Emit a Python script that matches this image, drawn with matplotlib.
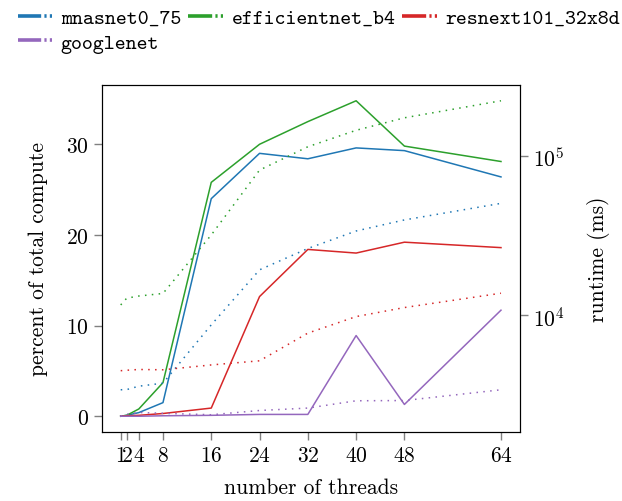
import numpy as np
import matplotlib
matplotlib.use('Agg')
import matplotlib.pyplot as plt
from matplotlib.legend_handler import HandlerBase
from matplotlib.lines import Line2D

plt.rcParams['font.family'] = 'serif'
plt.rcParams['font.serif'] = ['cmr10']
plt.rcParams['mathtext.fontset'] = 'cm'
plt.rcParams['axes.formatter.use_mathtext'] = True

threads = [1, 2, 4, 8, 16, 24, 32, 40, 48, 64]
models = ['mnasnet0_75', 'efficientnet_b4', 'resnext101_32x8d', 'googlenet']
colors = ['#1f77b4', '#2ca02c', '#d62728', '#9467bd']

# percent of total compute (solid, left axis)
pct_mnasnet = [0, 0.1, 0.4, 1.5, 24.0, 29.0, 28.4, 29.6, 29.3, 26.4]
pct_efficientnet = [0, 0.1, 0.8, 3.7, 25.8, 30.0, 32.5, 34.8, 29.8, 28.1]
pct_resnext = [0, 0.05, 0.1, 0.3, 0.9, 13.2, 18.4, 18.0, 19.2, 18.6]
pct_googlenet = [0, 0, 0, 0.05, 0.1, 0.2, 0.2, 8.9, 1.3, 11.7]

# runtime in ms (dotted, right axis, log)
rt_mnasnet = [3390, 3400, 3570, 3730, 8690, 19300, 26300, 33900, 39800, 50600]
rt_efficientnet = [11600, 12800, 13200, 13700, 32000, 82000, 115000, 146000, 175000, 224000]
rt_resnext = [4470, 4500, 4550, 4530, 4860, 5160, 7710, 9800, 11170, 13750]
rt_googlenet = [2310, 2380, 2440, 2410, 2360, 2510, 2600, 2890, 2900, 3390]

pcts = [pct_mnasnet, pct_efficientnet, pct_resnext, pct_googlenet]
rts = [rt_mnasnet, rt_efficientnet, rt_resnext, rt_googlenet]


class SolidDotHandler(HandlerBase):
    # solid segment followed by a dotted one, like the plot styles
    def create_artists(self, legend, orig_handle, xdescent, ydescent,
                       width, height, fontsize, trans):
        c = orig_handle.get_color()
        y = height / 2 - ydescent
        split = -xdescent + width * 0.58
        a = Line2D([-xdescent, split], [y, y], color=c, lw=2.6, solid_capstyle='butt')
        b = Line2D([split, -xdescent + width], [y, y], color=c, lw=2.6,
                   linestyle=(0, (0.6, 0.9)), dash_capstyle='butt')
        a.set_transform(trans)
        b.set_transform(trans)
        return [a, b]


fig = plt.figure(figsize=(6.22, 5.02), dpi=100)
ax = fig.add_axes([101.7 / 622, 1 - 433 / 502, (520 - 101.7) / 622, (433 - 86) / 502])
ax2 = ax.twinx()

handles = []
for name, c, p, r in zip(models, colors, pcts, rts):
    l1, = ax.plot(threads, p, color=c, lw=1.1)
    ax2.plot(threads, r, color=c, lw=1.1, linestyle=(0, (1, 3.5)))
    handles.append(l1)

ax2.set_yscale('log')
ax2.minorticks_off()

ax.set_xticks(threads)
ax.set_yticks([0, 10, 20, 30])
for a in (ax, ax2):
    a.tick_params(color='gray', labelsize=15.5, length=6, width=1)
ax.set_xlabel('number of threads', fontsize=15.5, labelpad=9)
ax.set_ylabel('percent of total compute', fontsize=15.5, labelpad=13)
ax2.set_ylabel('runtime (ms)', fontsize=15.5, labelpad=16)

# row-major order for a 3 column legend
order = [0, 3, 1, 2]
fig.legend([handles[i] for i in order], [models[i] for i in order],
           loc='upper left', bbox_to_anchor=(-0.002, 1.019), ncol=3,
           frameon=False, handlelength=1.78, handletextpad=0.3, columnspacing=0.33,
           labelspacing=0.25, handler_map={Line2D: SolidDotHandler()},
           prop={'family': ['cmtt10', 'DejaVu Sans Mono'], 'size': 15})

fig.savefig('out.png', dpi=100)
